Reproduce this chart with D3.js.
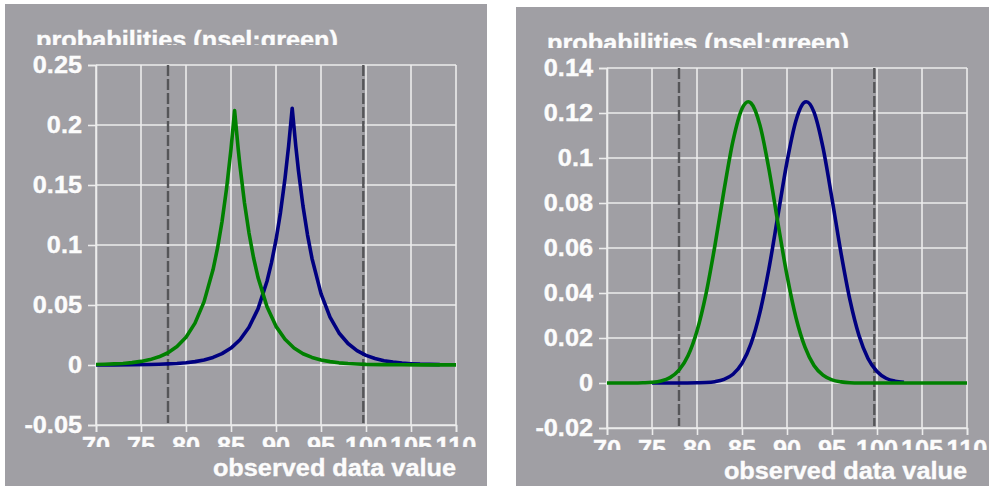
<!DOCTYPE html>
<html>
<head>
<meta charset="utf-8">
<script src="https://cdn.jsdelivr.net/npm/d3@7"></script>
<style>
  html, body { margin: 0; padding: 0; background: #ffffff; }
  svg { display: block; }
</style>
</head>
<body>
<svg id="chart" width="989" height="486"></svg>
<script>
// ---------- DATA ----------
const titleText = "probabilities (nsel:green)";
const xLabelText = "observed data value";
const xTicks = [70, 75, 80, 85, 90, 95, 100, 105, 110];
const markerLines = [78, 99.7];

// Left panel (sharp peaked curves)
const leftYTicks = [-0.05, 0, 0.05, 0.1, 0.15, 0.2, 0.25];
const leftGreenX = [70,71,72,73,74,75,76,77,78,79,80,81,82,83,83.5,84,84.5,85,85.4,85.8,86,86.5,87,87.5,88,89,90,91,92,93,94,95,96,97,98,99,100,102,104,106,108,110];
const leftGreenY = [0.0004,0.0006,0.0009,0.0013,0.0020,0.0030,0.0045,0.0068,0.0102,0.0154,0.0232,0.0349,0.0526,0.0793,0.0973,0.1194,0.1466,0.180,0.212,0.180,0.1658,0.135,0.110,0.0896,0.0730,0.0485,0.0322,0.0214,0.0142,0.0094,0.0063,0.0042,0.0028,0.0018,0.0012,0.0008,0.0005,0.0003,0.0002,0.0001,0.0001,0.0001];
const leftBlueX = [70,72,74,76,77,78,79,80,81,82,83,84,85,86,87,88,89,89.5,90,90.5,91,91.4,91.8,92.2,92.5,93,93.5,94,95,96,97,98,99,100,101,102,103,104,105,106,107,108.2];
const leftBlueY = [0.0000,0.0001,0.0002,0.0004,0.0006,0.0009,0.0013,0.0019,0.0028,0.0042,0.0063,0.0095,0.0141,0.0210,0.0314,0.0468,0.0698,0.0853,0.1042,0.1272,0.1554,0.1824,0.214,0.1824,0.1617,0.1324,0.1085,0.0888,0.0595,0.0399,0.0267,0.0179,0.0120,0.0080,0.0054,0.0036,0.0024,0.0016,0.0011,0.0007,0.0005,0.0003];

// Right panel (bell shaped curves)
const rightYTicks = [-0.02, 0, 0.02, 0.04, 0.06, 0.08, 0.1, 0.12, 0.14];
const rightGreenX = [70,71,72,73,74,75,76,77,78,79,80,81,82,83,84,85,85.7,86,87,88,89,90,91,92,93,94,95,96,97,98,100,105,110];
const rightGreenY = [0,0,0,0,0.0001,0.0003,0.0009,0.0024,0.0057,0.0121,0.0231,0.0396,0.0613,0.0856,0.1076,0.1219,0.125,0.1244,0.1145,0.0949,0.0709,0.0478,0.0290,0.0159,0.0078,0.0035,0.0014,0.0005,0.0001,0,0,0,0];
const rightBlueX = [75,78,80,81,82,83,84,85,86,87,88,89,90,91,92,92.15,93,94,95,96,97,98,99,100,101,102,103];
const rightBlueY = [0,0,0.0001,0.0002,0.0006,0.0016,0.0039,0.0087,0.0175,0.0315,0.0510,0.0746,0.0983,0.1167,0.1249,0.125,0.1204,0.1046,0.0819,0.0578,0.0368,0.0211,0.0109,0.0051,0.0021,0.0008,0.0003];

// ---------- DRAWING ----------
const svg = d3.select("#chart");
const BG = "#a09fa4";
const GRID = "#ececec";
const TXT = "#fcfcfc";
const FONT = "'Liberation Sans', Arial, sans-serif";
const FS = 23;
const SX = 1.1;

function styleText(sel) {
  return sel.attr("fill", TXT).attr("stroke", TXT).attr("stroke-width", 0.35)
    .attr("font-family", FONT).attr("font-weight", "bold").attr("font-size", FS);
}

function drawPanel(cfg) {
  const g = svg.append("g").attr("transform", `translate(${cfg.ox},${cfg.oy})`);
  g.append("rect").attr("x", 0).attr("y", 0).attr("width", cfg.w).attr("height", cfg.h).attr("fill", BG);

  const L = 91, T = 61, W = 360, H = 360;
  const x = d3.scaleLinear().domain([70, 110]).range([L, L + W]);
  const y = d3.scaleLinear().domain([cfg.yTicks[0], cfg.yTicks[cfg.yTicks.length - 1]]).range([T + H, T]);

  const cid = "clip" + cfg.id;
  const defs = g.append("defs");
  defs.append("clipPath").attr("id", cid + "t").append("rect")
    .attr("x", 0).attr("y", 0).attr("width", cfg.w).attr("height", 41);
  defs.append("clipPath").attr("id", cid + "x").append("rect")
    .attr("x", 0).attr("y", T + H + 2).attr("width", cfg.w).attr("height", 20);

  // grid
  const grid = g.append("g");
  grid.selectAll("line.v").data(xTicks).join("line")
    .attr("x1", d => x(d)).attr("x2", d => x(d)).attr("y1", T).attr("y2", T + H)
    .attr("stroke", GRID).attr("stroke-width", 1.6);
  grid.selectAll("line.h").data(cfg.yTicks).join("line")
    .attr("x1", L).attr("x2", L + W).attr("y1", d => y(d)).attr("y2", d => y(d))
    .attr("stroke", GRID).attr("stroke-width", 1.6);

  // y axis
  const ya = g.append("g").attr("transform", `translate(${L},0)`)
    .call(d3.axisLeft(y).tickValues(cfg.yTicks).tickFormat(d => String(d)).tickSize(8).tickPadding(6));
  ya.select(".domain").attr("stroke", GRID).attr("stroke-width", 1.6);
  ya.selectAll(".tick line").attr("stroke", GRID).attr("stroke-width", 1.6);
  styleText(ya.selectAll(".tick text")
    .attr("x", -14 / SX).attr("dy", "0.34em")
    .attr("transform", `scale(${SX},1)`));

  // x axis (labels moved into a clipped group)
  const xa = g.append("g").attr("transform", `translate(0,${T + H})`)
    .call(d3.axisBottom(x).tickValues(xTicks).tickFormat(d => String(d)).tickSize(7));
  xa.select(".domain").attr("stroke", GRID).attr("stroke-width", 1.6);
  xa.selectAll(".tick line").attr("stroke", GRID).attr("stroke-width", 1.6);
  xa.selectAll(".tick text").remove();
  const xlabs = g.append("g").attr("clip-path", `url(#${cid}x)`);
  styleText(xlabs.selectAll("text").data(xTicks).join("text")
    .attr("transform", d => `translate(${x(d)},${T + H + 29}) scale(${SX},1)`)
    .attr("text-anchor", "middle")
    .text(d => String(d)));

  // marker dashed lines
  g.selectAll("line.mk").data(markerLines).join("line")
    .attr("x1", d => x(d)).attr("x2", d => x(d)).attr("y1", T).attr("y2", T + H - 2)
    .attr("stroke", "#555558").attr("stroke-width", 2.4).attr("stroke-dasharray", "11,3");

  // curves
  const line = d3.line().x(d => x(d[0])).y(d => y(d[1])).curve(cfg.curve);
  const series = [
    { xs: cfg.blueX, ys: cfg.blueY, color: "#000080" },
    { xs: cfg.greenX, ys: cfg.greenY, color: "#008000" }
  ];
  series.forEach(s => {
    g.append("path").datum(s.xs.map((v, i) => [v, s.ys[i]]))
      .attr("d", line).attr("fill", "none").attr("stroke", s.color)
      .attr("stroke-width", 3.6).attr("stroke-linejoin", "round");
  });

  // title (clipped at bottom)
  styleText(g.append("g").attr("clip-path", `url(#${cid}t)`)
    .append("text")
    .attr("transform", `translate(31,44) scale(${SX},1)`)
    .text(titleText));

  // x label
  styleText(g.append("text")
    .attr("transform", `translate(${L + W},472) scale(${SX},1)`)
    .attr("text-anchor", "end")
    .text(xLabelText));
}

drawPanel({ id: "L", ox: 5, oy: 4, w: 482, h: 482, yTicks: leftYTicks,
  greenX: leftGreenX, greenY: leftGreenY, blueX: leftBlueX, blueY: leftBlueY, curve: d3.curveLinear });
drawPanel({ id: "R", ox: 516, oy: 7, w: 473, h: 479, yTicks: rightYTicks,
  greenX: rightGreenX, greenY: rightGreenY, blueX: rightBlueX, blueY: rightBlueY, curve: d3.curveMonotoneX });
</script>
</body>
</html>
